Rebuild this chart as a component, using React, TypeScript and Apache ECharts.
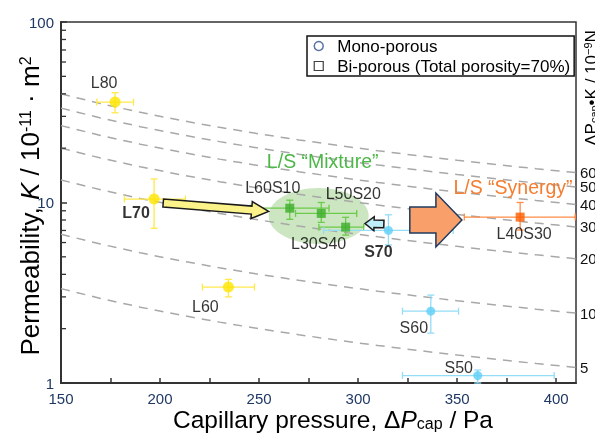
import React, { useEffect, useRef } from "react";
import * as echarts from "echarts";

// ---------- data ----------
const names = ["L80", "L70", "L60", "L60S10", "L50S20", "L30S40", "S70", "L40S30", "S60", "S50"];
const kinds = ["L", "L", "L", "mix", "mix", "mix", "S", "syn", "S", "S"];
const pressure = [177.3, 197, 234.5, 265.5, 281.4, 293.7, 315.3, 381.8, 336.7, 360.4];
const permeability = [36, 10.45, 3.4, 9.3, 8.7, 7.3, 7.0, 8.3, 2.5, 1.1];
const pressureLow = [168.1, 182, 221.4, 245.6, 268.4, 280.2, 282.6, 353.6, 322.4, 322.4];
const pressureHigh = [186.6, 212.8, 247.7, 285.3, 299.3, 302.8, 348, 409.6, 350.7, 399];
const permLow = [31.4, 7.2, 3.0, 8.07, 7.76, 6.6, 5.82, 7.04, 1.89, 1.0];
const permHigh = [40.6, 13.5, 3.75, 10.3, 10.0, 8.28, 8.55, 10.0, 3.07, 1.18];

// iso-lines of constant ΔPcap·K (10^-9 N); K[10^-11 m2] = level*100 / ΔP
const isoLevels = [5, 10, 20, 30, 40, 50, 60];
const isoPressures = [150, 170, 190, 210, 230, 250, 270, 290, 310, 330, 350, 370, 390, 410];
const yMinorTicks = [2, 3, 4, 5, 6, 7, 8, 9, 20, 30, 40, 50, 60, 70, 80, 90];

const legendNames = ["Mono-porous", "Bi-porous (Total porosity=70%)"];

// ---------- styles ----------
const FONT = "'Liberation Sans', Arial, sans-serif";
const KIND_STYLE: Record<string, any> = {
  L: { symbol: "circle", size: 11, color: "#FFE500", bar: "#FFE84A" },
  mix: { symbol: "rect", size: 9, color: "#3DAE2B", bar: "#6CCB4A" },
  S: { symbol: "circle", size: 9, color: "#5ED0F7", bar: "#93DDF6" },
  syn: { symbol: "rect", size: 9, color: "#FF5C00", bar: "#FF8B45" },
};
const LABEL_STYLE: Record<string, any> = {
  L80: { offset: [-11, -20] },
  L70: { offset: [-18, 13], bold: true },
  L60: { offset: [-23, 19] },
  L60S10: { offset: [-17, -21] },
  L50S20: { offset: [32, -20] },
  L30S40: { offset: [-27, 16] },
  S70: { offset: [-10, 21], bold: true },
  L40S30: { offset: [4, 16] },
  S60: { offset: [-17, 16] },
  S50: { offset: [-19, -8] },
};
// annotation anchors in data coordinates
const ARROWS = [
  { tail: [201.6, 9.94], tip: [254.8, 8.92], w: 4, hl: 17, hw: 8.5, fill: "#FBF38A", stroke: "#1a1a1a" },
  { tail: [313.0, 7.6], tip: [303.5, 7.65], w: 3.8, hl: 9, hw: 7, fill: "#BDEEFA", stroke: "#1a1a1a" },
  { tail: [326.1, 8.0], tip: [352.4, 8.0], w: 13, hl: 26, hw: 27, fill: "#F9A06A", stroke: "#1F3A5F" },
];
const MIX_ELLIPSE = { center: [280.1, 8.41], rx: 50, ry: 28 };
const MIX_TEXT = { at: [282.1, 17.0], text: "L/S \u201cMixture\u201d", color: "#4DB848" };
const SYN_TEXT = { at: [378.2, 12.2], text: "L/S \u201cSynergy\u201d", color: "#F47D30" };

function arrowPoints(T: number[], P: number[], w: number, hl: number, hw: number) {
  const dx = P[0] - T[0], dy = P[1] - T[1];
  const len = Math.hypot(dx, dy);
  const ux = dx / len, uy = dy / len;
  const nx = -uy, ny = ux;
  const B = [P[0] - ux * hl, P[1] - uy * hl];
  return [
    [T[0] + nx * w, T[1] + ny * w],
    [B[0] + nx * w, B[1] + ny * w],
    [B[0] + nx * hw, B[1] + ny * hw],
    [P[0], P[1]],
    [B[0] - nx * hw, B[1] - ny * hw],
    [B[0] - nx * w, B[1] - ny * w],
    [T[0] - nx * w, T[1] - ny * w],
  ];
}

export default function App() {
  const ref = useRef<HTMLDivElement>(null);
  useEffect(() => {
    const chart = echarts.init(ref.current!, null, { renderer: "svg" });

    const isoSeries = isoLevels.map((lv) => ({
      type: "line",
      name: "iso" + lv,
      data: isoPressures.map((p) => [p, (lv * 100) / p]),
      symbol: "none",
      silent: true,
      z: 1,
      lineStyle: { color: "#A8A8A8", width: 1.5, type: [9, 7] },
      endLabel: { show: true, formatter: String(lv), distance: 4, fontSize: 15, lineHeight: 15, color: "#111", fontFamily: FONT },
    }));

    const errData = pressure.map((x, i) => [x, permeability[i], pressureLow[i], pressureHigh[i], permLow[i], permHigh[i], i]);

    const pointData = pressure.map((x, i) => {
      const ks = KIND_STYLE[kinds[i]];
      const ls = LABEL_STYLE[names[i]];
      return {
        name: names[i],
        value: [x, permeability[i]],
        symbol: ks.symbol,
        symbolSize: ks.size,
        itemStyle: { color: ks.color },
        label: {
          show: true,
          position: "inside",
          offset: ls.offset,
          formatter: names[i],
          fontSize: 16,
          fontWeight: ls.bold ? "bold" : "normal",
          color: "#000",
          fontFamily: FONT,
        },
      };
    });

    const option: any = {
      animation: false,
      grid: { left: 61, right: 19, top: 22, bottom: 51, show: true, borderColor: "#333", borderWidth: 1.5, backgroundColor: "transparent" },
      legend: {
        left: 307,
        top: 36,
        orient: "vertical",
        itemWidth: 9,
        itemHeight: 9,
        itemGap: 0,
        padding: [0, 4, 0, 6.5],
        borderColor: "#111",
        borderWidth: 1.5,
        selectedMode: false,
        textStyle: { fontSize: 17, color: "#000", fontFamily: FONT, lineHeight: 20, padding: [0, 0, 0, 9] },
        data: [
          { name: legendNames[0], icon: "circle", itemStyle: { color: "#fff", borderColor: "#2F4F8F", borderWidth: 1.5 } },
          { name: legendNames[1], icon: "rect", itemStyle: { color: "#fff", borderColor: "#111", borderWidth: 1.2 } },
        ],
      },
      xAxis: {
        type: "value",
        min: 150,
        max: 410,
        interval: 25,
        axisLine: { lineStyle: { color: "#333", width: 2 } },
        axisTick: { inside: true, length: 5, lineStyle: { color: "#333", width: 1.5 } },
        axisLabel: {
          formatter: (v: number) => (v % 50 === 0 ? String(v) : ""),
          showMaxLabel: false,
          fontSize: 15,
          color: "#1F3864",
          fontFamily: FONT,
          margin: 8,
        },
        splitLine: { show: false },
      },
      yAxis: {
        type: "log",
        logBase: 10,
        min: 1,
        max: 100,
        axisLine: { lineStyle: { color: "#333", width: 2 } },
        axisTick: { inside: true, length: 6, lineStyle: { color: "#333", width: 1.5 } },
        axisLabel: { fontSize: 15, color: "#1F3864", fontFamily: FONT, margin: 7 },
        splitLine: { show: false },
      },
      series: [
        ...isoSeries,
        {
          type: "custom",
          name: "yMinor",
          silent: true,
          clip: false,
          z: 3,
          data: yMinorTicks.map((v) => [150, v]),
          encode: { x: 0, y: 1 },
          renderItem: (params: any, api: any) => {
            const p = api.coord([api.value(0), api.value(1)]);
            return {
              type: "line",
              shape: { x1: p[0], y1: p[1], x2: p[0] + 5, y2: p[1] },
              style: { stroke: "#333", lineWidth: 1.3 },
            };
          },
        },
        {
          type: "custom",
          name: "errors",
          silent: true,
          z: 4,
          data: errData,
          encode: { x: [0, 2, 3], y: [1, 4, 5] },
          renderItem: (params: any, api: any) => {
            const x = api.value(0), y = api.value(1);
            const idx = api.value(6);
            const color = KIND_STYLE[kinds[idx]].bar;
            const pl = api.coord([api.value(2), y]);
            const ph = api.coord([api.value(3), y]);
            const pb = api.coord([x, api.value(4)]);
            const pt = api.coord([x, api.value(5)]);
            const c = 3.5;
            const st = { stroke: color, lineWidth: 1.3 };
            return {
              type: "group",
              children: [
                { type: "line", shape: { x1: pl[0], y1: pl[1], x2: ph[0], y2: ph[1] }, style: st },
                { type: "line", shape: { x1: pl[0], y1: pl[1] - c, x2: pl[0], y2: pl[1] + c }, style: st },
                { type: "line", shape: { x1: ph[0], y1: ph[1] - c, x2: ph[0], y2: ph[1] + c }, style: st },
                { type: "line", shape: { x1: pb[0], y1: pb[1], x2: pt[0], y2: pt[1] }, style: st },
                { type: "line", shape: { x1: pt[0] - c, y1: pt[1], x2: pt[0] + c, y2: pt[1] }, style: st },
                { type: "line", shape: { x1: pb[0] - c, y1: pb[1], x2: pb[0] + c, y2: pb[1] }, style: st },
              ],
            };
          },
        },
        {
          type: "scatter",
          name: "points",
          z: 6,
          data: pointData,
        },
        { type: "scatter", name: legendNames[0], data: [], symbol: "circle", itemStyle: { color: "#fff", borderColor: "#2F4F8F", borderWidth: 1.5 } },
        { type: "scatter", name: legendNames[1], data: [], symbol: "rect", itemStyle: { color: "#fff", borderColor: "#111", borderWidth: 1.2 } },
      ],
    };
    chart.setOption(option);

    const px = (v: number[]) => chart.convertToPixel({ gridIndex: 0 }, v) as number[];
    const graphics: any[] = [];
    const ec = px(MIX_ELLIPSE.center);
    graphics.push({
      type: "ellipse",
      z: 0,
      silent: true,
      shape: { cx: ec[0], cy: ec[1], rx: MIX_ELLIPSE.rx, ry: MIX_ELLIPSE.ry },
      style: { fill: "rgba(160, 210, 140, 0.55)" },
    });
    ARROWS.forEach((a) => {
      const T = px(a.tail), P = px(a.tip);
      graphics.push({
        type: "polygon",
        z: 10,
        silent: true,
        shape: { points: arrowPoints(T, P, a.w, a.hl, a.hw) },
        style: { fill: a.fill, stroke: a.stroke, lineWidth: 1.5, lineJoin: "miter" },
      });
    });
    [MIX_TEXT, SYN_TEXT].forEach((t) => {
      const p = px(t.at);
      graphics.push({
        type: "text",
        z: 10,
        x: p[0],
        y: p[1],
        style: { text: t.text, fill: t.color, fontSize: 19.5, fontFamily: FONT, align: "center", verticalAlign: "middle" },
      });
    });
    // axis titles
    graphics.push({
      type: "text",
      z: 10,
      x: 30,
      y: 206,
      rotation: Math.PI / 2,
      style: {
        text: "Permeability, {i|K} / 10{sup|-11} \u00b7 m{sup|2}",
        fill: "#000",
        fontSize: 26,
        fontFamily: FONT,
        align: "center",
        verticalAlign: "middle",
        rich: {
          i: { fontSize: 26, fontStyle: "italic", fontFamily: FONT, fill: "#000" },
          sup: { fontSize: 16, verticalAlign: "top", fontFamily: FONT, fill: "#000" },
        },
      },
    });
    graphics.push({
      type: "text",
      z: 10,
      x: 333,
      y: 419,
      style: {
        text: "Capillary pressure, \u0394{i|P}{sub|cap} / Pa",
        fill: "#000",
        fontSize: 24.5,
        fontFamily: FONT,
        align: "center",
        verticalAlign: "middle",
        rich: {
          i: { fontSize: 24.5, fontStyle: "italic", fontFamily: FONT, fill: "#000" },
          sub: { fontSize: 16, verticalAlign: "bottom", padding: [8, 0, 0, 0], fontFamily: FONT, fill: "#000" },
        },
      },
    });
    graphics.push({
      type: "text",
      z: 10,
      x: 591,
      y: 88,
      rotation: Math.PI / 2,
      style: {
        text: "\u0394P{sub|cap}\u2022K / 10{sup|\u22129}N",
        fill: "#000",
        fontSize: 17,
        fontFamily: FONT,
        align: "center",
        verticalAlign: "middle",
        rich: {
          sub: { fontSize: 11, verticalAlign: "bottom", padding: [6, 0, 0, 0], fontFamily: FONT, fill: "#000" },
          sup: { fontSize: 11, verticalAlign: "top", fontFamily: FONT, fill: "#000" },
        },
      },
    });
    chart.setOption({ graphic: graphics });

    return () => chart.dispose();
  }, []);

  return <div ref={ref} style={{ position: "fixed", left: 0, top: 0, width: 595, height: 434 }} />;
}
